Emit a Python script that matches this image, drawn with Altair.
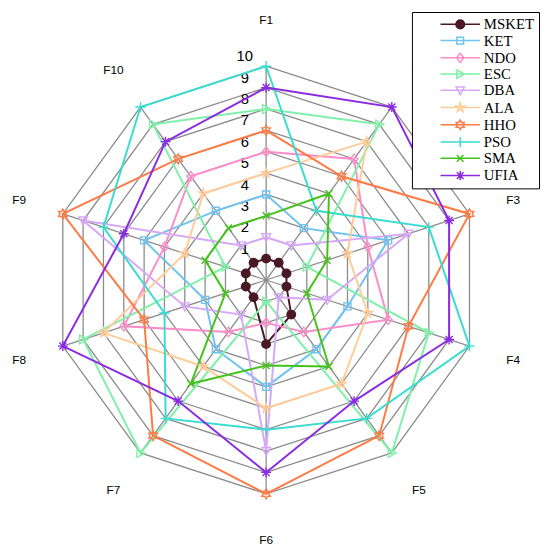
import math
import altair as alt
import pandas as pd

# ---------------- data ----------------
features = ["F1", "F2", "F3", "F4", "F5", "F6", "F7", "F8", "F9", "F10"]
series_names = ["MSKET", "KET", "NDO", "ESC", "DBA", "ALA", "HHO", "PSO", "SMA", "UFIA"]

MSKET = [1, 1, 1, 1, 2, 3, 1, 1, 1, 1]
KET = [4, 3, 6, 4, 4, 5, 4, 3, 6, 4]
NDO = [6, 7, 5, 6, 3, 2, 3, 7, 5, 6]
ESC = [8, 9, 2, 8, 10, 1, 10, 9, 2, 9]
DBA = [2, 2, 7, 3, 1, 8, 2, 4, 9, 2]
ALA = [5, 8, 4, 5, 6, 6, 5, 8, 4, 5]
HHO = [7, 6, 10, 7, 9, 10, 9, 6, 10, 7]
PSO = [10, 4, 8, 10, 8, 7, 8, 5, 8, 10]
SMA = [3, 5, 3, 2, 5, 4, 6, 2, 3, 3]
UFIA = [9, 10, 9, 9, 7, 9, 7, 10, 7, 8]

tick_values = [1, 2, 3, 4, 5, 6, 7, 8, 9, 10]

series_values = [MSKET, KET, NDO, ESC, DBA, ALA, HHO, PSO, SMA, UFIA]

# ---------------- styles ----------------
colors = ["#4a1a24", "#6ec3f0", "#ff8cc8", "#7ff0a8", "#d8a8f8",
          "#ffcc99", "#ff7a45", "#3adbd0", "#44c21a", "#8a2be2"]


def star_pts(n, ro, ri):
    pts = []
    for i in range(2 * n):
        a = math.pi * i / n
        r = ro if i % 2 == 0 else ri
        pts.append((r * math.sin(a), -r * math.cos(a)))
    return pts


# marker outlines: list of (points, closed)
marker_geo = {
    "KET": [([(-0.85, -0.85), (0.85, -0.85), (0.85, 0.85), (-0.85, 0.85)], True)],
    "NDO": [([(0, -1.15), (0.95, 0), (0, 1.15), (-0.95, 0)], True)],
    "ESC": [([(-0.85, -1.05), (1.1, 0), (-0.85, 1.05)], True)],
    "DBA": [([(-1.05, -0.85), (1.05, -0.85), (0, 1.1)], True)],
    "ALA": [(star_pts(5, 1.2, 0.48), True)],
    "HHO": [(star_pts(6, 1.2, 0.69), True)],
    "PSO": [([(-1.25, 0), (1.25, 0)], False), ([(0, -1.25), (0, 1.25)], False)],
    "SMA": [([(-0.85, -0.85), (0.85, 0.85)], False), ([(-0.85, 0.85), (0.85, -0.85)], False)],
    "UFIA": [([(-1.2, 0), (1.2, 0)], False), ([(0, -1.2), (0, 1.2)], False),
             ([(-0.85, -0.85), (0.85, 0.85)], False), ([(-0.85, 0.85), (0.85, -0.85)], False)],
}


def geo_path(name, dx=0.0):
    out = ""
    for pts, closed in marker_geo[name]:
        out += "M" + "L".join(f"{x + dx:.3f},{y:.3f}" for x, y in pts)
        if closed:
            out += "Z"
    return out


def circ(r, dx=0.0):
    return (f"M{dx - r:.3f},0A{r},{r},0,1,1,{dx + r:.3f},0"
            f"A{r},{r},0,1,1,{dx - r:.3f},0Z")


# legend symbol: line from 4.125 to 14.125 units, marker centred at 9.125
L0, L1, MC = 4.125, 14.125, 9.125
LINE = f"M{L0},0L{L1},0"
legend_paths = []
for name in series_names:
    if name == "MSKET":
        legend_paths.append(LINE + circ(1.1, MC) + circ(0.8, MC) + circ(0.5, MC) + circ(0.2, MC))
    else:
        legend_paths.append(LINE + geo_path(name, MC))

# ---------------- tables ----------------
N = len(features)
rows = []
for name, vals in zip(series_names, series_values):
    for k in range(N + 1):
        rows.append({"series": name, "k": k, "value": vals[k % N]})
df = pd.DataFrame(rows)

rings = pd.DataFrame([{"ring": r, "k": k} for r in tick_values for k in range(N + 1)])
spokes = pd.DataFrame({"k": list(range(N)), "r": [max(tick_values)] * N})
feat_df = pd.DataFrame({"k": list(range(N)), "feature": features})
tick_df = pd.DataFrame({"tick": tick_values})
legend_df = pd.DataFrame({"series": series_names})

# ---------------- geometry ----------------
UNIT = 21.7
W, H = 542, 544
CX, CY = 262, 272
xs = alt.Scale(domain=[-CX / UNIT, (W - CX) / UNIT], nice=False, zero=False)
ys = alt.Scale(domain=[-(H - CY) / UNIT, CY / UNIT], nice=False, zero=False)


def X(f):
    return alt.X(f"{f}:Q", scale=xs, axis=None)


def Y(f):
    return alt.Y(f"{f}:Q", scale=ys, axis=None)


ANG = f"datum.k*2*PI/{N}"
GRID = "#8c8c8c"

color_scale = alt.Scale(domain=series_names, range=colors)

grid = alt.Chart(rings).transform_calculate(
    x=f"datum.ring*sin({ANG})", y=f"datum.ring*cos({ANG})"
).mark_line(color=GRID, strokeWidth=1.3).encode(
    x=X("x"), y=Y("y"), detail="ring:N", order="k:Q"
)

spoke = alt.Chart(spokes).transform_calculate(
    x0="0", y0="0", x=f"datum.r*sin({ANG})", y=f"datum.r*cos({ANG})"
).mark_rule(color=GRID, strokeWidth=1.3).encode(
    x=X("x0"), y=Y("y0"), x2="x:Q", y2="y:Q"
)

ticks = alt.Chart(tick_df).transform_calculate(
    x="-1.0", y="datum.tick + 0.46"
).mark_text(font="Liberation Sans", fontSize=15, color="black",
            align="center", baseline="middle").encode(
    x=X("x"), y=Y("y"), text="tick:Q"
)

flabels = alt.Chart(feat_df).transform_calculate(
    x=f"12.15*sin({ANG})", y=f"12.15*cos({ANG})"
).mark_text(font="Liberation Sans", fontSize=12, color="black",
            align="center", baseline="middle").encode(
    x=X("x"), y=Y("y"), text="feature:N"
)

base = alt.Chart(df).transform_calculate(
    x=f"datum.value*sin({ANG})", y=f"datum.value*cos({ANG})"
)

line_layers = []
point_layers = []
for name, col in zip(series_names, colors):
    src = base.transform_filter(f"datum.series == '{name}'")
    line_layers.append(src.mark_line(strokeWidth=2, color=col).encode(
        x=X("x"), y=Y("y"), order=alt.Order("k:Q")))
    psrc = src.transform_filter(f"datum.k < {N}")
    if name == "MSKET":
        mk = psrc.mark_point(shape="circle", filled=True, size=100, color=col,
                             opacity=1)
    else:
        mk = psrc.mark_point(shape=geo_path(name), filled=False, size=70,
                             color=col, strokeWidth=1.4, opacity=1)
    point_layers.append(mk.encode(x=X("x"), y=Y("y")))

leg = alt.Legend(title=None, orient="none", legendX=410, legendY=0,
                 strokeColor="black", fillColor="white", padding=5,
                 symbolSize=64, symbolStrokeWidth=1.5, symbolOpacity=1,
                 labelOffset=53,
                 labelFont="Liberation Serif", labelFontSize=15,
                 labelColor="black", rowPadding=0.5)

legend_layer = alt.Chart(legend_df).transform_calculate(px="null").mark_point(
    filled=False, strokeWidth=1.5, opacity=1
).encode(
    x=X("px"), y=Y("px"),
    color=alt.Color("series:N", scale=color_scale, legend=leg),
    shape=alt.Shape("series:N", scale=alt.Scale(domain=series_names, range=legend_paths),
                    legend=leg),
)

chart = alt.layer(grid, spoke, ticks, flabels, *line_layers, *point_layers,
                  legend_layer).properties(
    width=W, height=H, padding=0, autosize=alt.AutoSizeParams(type="none")
).configure_view(stroke=None)

chart.save("out.html", embed_options={"renderer": "svg", "actions": False})
